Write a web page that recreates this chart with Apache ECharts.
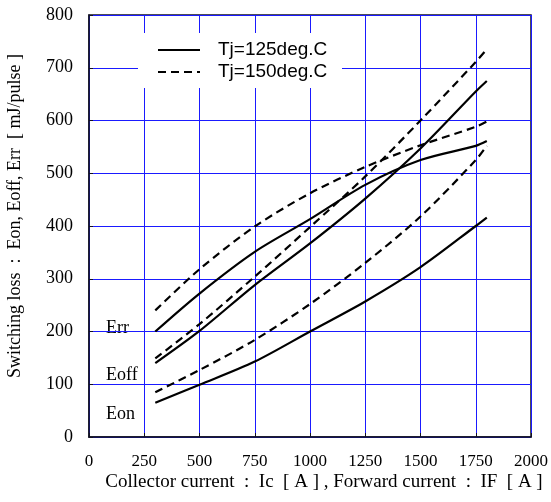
<!DOCTYPE html>
<html>
<head>
<meta charset="utf-8">
<script src="https://cdn.jsdelivr.net/npm/echarts@6/dist/echarts.min.js"></script>
<style>html,body{margin:0;padding:0;background:#fff}#c{width:551px;height:502px}</style>
</head>
<body>
<div id="c"></div>
<script>
var current = [300, 500, 750, 1000, 1250, 1500, 1750, 1800];
var eon125  = [65, 99, 143, 200, 257, 322, 400, 416];
var eoff125 = [140, 201, 288, 367, 452, 547, 655, 675];
var err125  = [200, 272, 351, 413, 478, 525, 552, 561];
var eon150  = [85, 127, 184, 252, 330, 418, 525, 552];
var eoff150 = [149, 214, 304, 398, 494, 600, 711, 735];
var err150  = [240, 318, 399, 462, 512, 553, 588, 598];
var xTicks = [0, 250, 500, 750, 1000, 1250, 1500, 1750, 2000];
var yTicks = [0, 100, 200, 300, 400, 500, 600, 700, 800];
var name125 = 'Tj=125deg.C', name150 = 'Tj=150deg.C';
var curveNames = ['Err', 'Eoff', 'Eon'];

function pairs(ys){ return current.map(function(x,i){ return [x, ys[i]]; }); }
var DASH = [8, 5];
function mk(name, ys, dashed){
  return {
    name: name, type: 'line', data: pairs(ys), smooth: 0.3,
    symbol: 'none', showSymbol: false, color: '#000',
    lineStyle: {color: '#000', width: 2.2, type: dashed ? DASH : 'solid'}
  };
}
var serif = '"Liberation Serif","Times New Roman",serif';
var sans = '"Liberation Sans",Arial,sans-serif';
var axisCol = '#111122';
var chart = echarts.init(document.getElementById('c'));
chart.setOption({
  animation: false,
  grid: {left: 89, right: 18, top: 15, bottom: 65, show: true, borderColor: axisCol, borderWidth: 1.5, backgroundColor: 'transparent'},
  xAxis: {
    type: 'value', min: 0, max: 2000, interval: 250,
    axisLine: {show: true, lineStyle: {color: axisCol, width: 1.5}},
    axisTick: {show: true, inside: true, length: 4, lineStyle: {color: axisCol}},
    splitLine: {show: true, lineStyle: {color: '#1a1aff', width: 1}},
    axisLabel: {fontFamily: serif, fontSize: 17, color: '#000', margin: 16,
      formatter: function(v){ return xTicks.indexOf(v) >= 0 ? String(v) : ''; }}
  },
  yAxis: {
    type: 'value', min: 0, max: 800, interval: 100,
    axisLine: {show: true, lineStyle: {color: axisCol, width: 1.5}},
    axisTick: {show: true, inside: true, length: 4, lineStyle: {color: axisCol}},
    splitLine: {show: true, lineStyle: {color: '#1a1aff', width: 1}},
    axisLabel: {fontFamily: serif, fontSize: 18, color: '#000', margin: 16,
      formatter: function(v){ return yTicks.indexOf(v) >= 0 ? String(v) : ''; }}
  },
  graphic: [
    {type: 'rect', shape: {x: 138, y: 33, width: 204, height: 55}, style: {fill: '#fff'}, z: 10},
    {type: 'line', shape: {x1: 158, y1: 50, x2: 200, y2: 50}, style: {stroke: '#000', lineWidth: 2.2}, z: 11},
    {type: 'line', shape: {x1: 158, y1: 72, x2: 200, y2: 72}, style: {stroke: '#000', lineWidth: 2.2, lineDash: DASH}, z: 11},
    {type: 'text', x: 218, y: 50, z: 11, style: {text: name125, font: '19px ' + sans, fill: '#000', verticalAlign: 'middle'}},
    {type: 'text', x: 218, y: 72, z: 11, style: {text: name150, font: '19px ' + sans, fill: '#000', verticalAlign: 'middle'}},
    {type: 'text', x: 106, y: 328, style: {text: curveNames[0], font: '18px ' + serif, fill: '#000', verticalAlign: 'middle'}},
    {type: 'text', x: 106, y: 375, style: {text: curveNames[1], font: '18px ' + serif, fill: '#000', verticalAlign: 'middle'}},
    {type: 'text', x: 106, y: 414, style: {text: curveNames[2], font: '18px ' + serif, fill: '#000', verticalAlign: 'middle'}},
    {type: 'text', x: 15, y: 216, rotation: Math.PI/2,
      style: {text: 'Switching loss  :  Eon, Eoff, Err  [ mJ/pulse ]', font: '18px ' + serif, fill: '#000', align: 'center', verticalAlign: 'middle'}},
    {type: 'text', x: 324, y: 482,
      style: {text: 'Collector current  :  Ic  [ A ] , Forward current  :  IF  [ A ]', font: '19px ' + serif, fill: '#000', align: 'center', verticalAlign: 'middle'}}
  ],
  series: [
    mk(name125, err125, false), mk(name125, eoff125, false), mk(name125, eon125, false),
    mk(name150, err150, true), mk(name150, eoff150, true), mk(name150, eon150, true)
  ]
});
</script>
</body>
</html>
